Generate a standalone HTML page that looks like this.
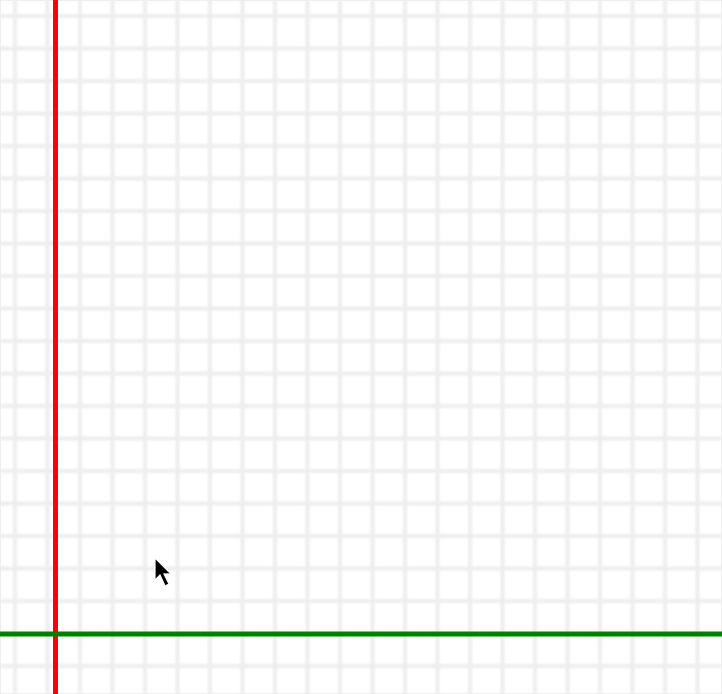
<!DOCTYPE html>
<html><head><meta charset="utf-8"><style>
body{margin:0;width:722px;height:694px;overflow:hidden;background:#fff}
svg{display:block}
</style></head><body>
<svg id="c" width="722" height="694">
<defs><filter id="bl" x="-10%" y="-10%" width="120%" height="120%"><feGaussianBlur stdDeviation="1"/></filter></defs>
<rect x="0" y="0" width="722" height="694" fill="#fff" stroke="#ddd" stroke-width="1"/>
<g id="grid" filter="url(#bl)"></g>
<line x1="55.5" y1="0" x2="55.5" y2="694" stroke="#ff0000" stroke-width="5"/>
<line x1="0" y1="634" x2="722" y2="634" stroke="#008000" stroke-width="5"/>
<path d="M155,558 L155,580 L160,575 L165,586 L169,584 L164,574 L171,574 Z" fill="#000" stroke="#fff" stroke-width="1.2"/>
</svg>
<script>
const gridStep=[32.5];
const gridOrigin=[15,16];
const g=document.getElementById('grid');
const ns='http://www.w3.org/2000/svg';
for(let x=gridOrigin[0];x<722;x+=gridStep[0]){
 const l=document.createElementNS(ns,'line');
 l.setAttribute('x1',x);l.setAttribute('x2',x);l.setAttribute('y1',0);l.setAttribute('y2',694);
 l.setAttribute('stroke','#eeeeee');l.setAttribute('stroke-width','4');
 
 
 g.appendChild(l);
}
for(let y=gridOrigin[1];y<694;y+=gridStep[0]){
 const l=document.createElementNS(ns,'line');
 l.setAttribute('y1',y);l.setAttribute('y2',y);l.setAttribute('x1',0);l.setAttribute('x2',722);
 l.setAttribute('stroke','#eeeeee');l.setAttribute('stroke-width','4');
 
 
 g.appendChild(l);
}
</script>
</body></html>
